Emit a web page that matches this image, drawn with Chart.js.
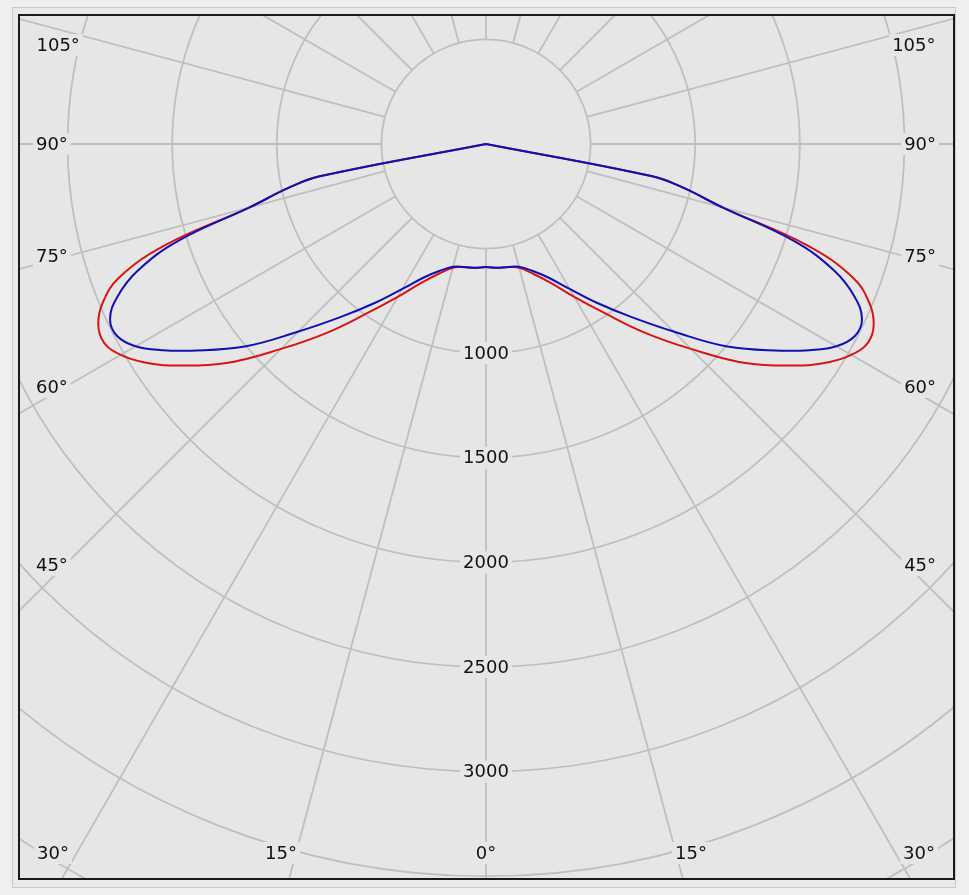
<!DOCTYPE html>
<html>
<head>
<meta charset="utf-8">
<script src="https://cdn.jsdelivr.net/npm/chart.js@4.4.1/dist/chart.umd.min.js"></script>
<style>
  html, body { margin: 0; padding: 0; background: #efefef; }
  body { width: 969px; height: 895px; position: relative; overflow: hidden; }
  .outer { position: absolute; left: 12px; top: 7px; width: 942px; height: 879px;
           border: 1px solid #c9c9c9; background: #e9e9e9; }
  .frame { position: absolute; left: 18px; top: 14px; width: 933px; height: 862px;
           border: 2px solid #1a1a1a; }
  canvas { display: block; }
</style>
</head>
<body>
<div class="outer"></div>
<div class="frame"><canvas id="polar" width="933" height="862"></canvas></div>
<script>
// ===== DATA (luminous intensity, cd) =====
const gammaDeg = [0, 5, 10, 15, 20, 25, 30, 35, 40, 45, 50, 55, 57.5, 60, 62.5, 65, 67.5, 70, 72.5, 75, 77.5, 79, 90];
const blueCd   = [588, 594, 597, 608, 645, 704, 800, 928, 1079, 1268, 1506, 1722, 1834, 1934, 1988, 1983, 1907, 1772, 1545, 1170, 965, 810, 0];
const redCd    = [588, 594, 598, 612, 660, 732, 844, 986, 1175, 1385, 1631, 1845, 1941, 2016, 2058, 2045, 1983, 1866, 1610, 1170, 965, 810, 0];

const ringValues  = [500, 1000, 1500, 2000, 2500, 3000, 3500, 4000, 4500];
const ringLabels  = ["1000", "1500", "2000", "2500", "3000"];
const angleLabels = [0, 15, 30, 45, 60, 75, 90, 105];
const spokeStep = 15;

// ===== VIEW (canvas px <-> cd) =====
const PX_PER_CD = 104.6 / 500;
const W = 933, H = 862;
const CX = 466, CY = 128;   // polar origin in canvas px

const BG = "#e6e6e6";
const GRID = "#bfbfbf";
const FONT = "18px 'DejaVu Sans', Verdana, sans-serif";

// polar (gamma from nadir, side -1 left / +1 right) -> cartesian cd
function toXY(g, r, side) {
    const t = g * Math.PI / 180;
    return { x: side * r * Math.sin(t), y: -r * Math.cos(t) };
}

function curve(values) {
    const pts = [];
    for (let i = gammaDeg.length - 1; i >= 0; i--) pts.push(toXY(gammaDeg[i], values[i], 1));
    for (let i = 1; i < gammaDeg.length; i++) pts.push(toXY(gammaDeg[i], values[i], -1));
    return pts;
}

function maskedText(ctx, txt, px, py) {
    ctx.font = FONT;
    const w = ctx.measureText(txt).width;
    const left = px - w / 2;
    ctx.fillStyle = BG;
    ctx.fillRect(left - 3, py - 11, w + 6, 22);
    ctx.fillStyle = "#111";
    ctx.textAlign = "left";
    ctx.textBaseline = "middle";
    ctx.fillText(txt, left, py + 1);
}

const polarGrid = {
    id: "polarGrid",
    beforeDatasetsDraw(chart) {
        const { ctx, chartArea: a, scales: { x, y } } = chart;
        const px = v => x.getPixelForValue(v);
        const py = v => y.getPixelForValue(v);
        const cx = px(0), cy = py(0);
        const k = px(1000) - cx;

        ctx.save();
        ctx.beginPath();
        ctx.rect(a.left, a.top, a.right - a.left, a.bottom - a.top);
        ctx.clip();
        ctx.fillStyle = BG;
        ctx.fillRect(a.left, a.top, a.right - a.left, a.bottom - a.top);

        ctx.strokeStyle = GRID;
        ctx.lineWidth = 1.8;
        ringValues.forEach(r => {
            ctx.beginPath();
            ctx.arc(cx, cy, r * k / 1000, 0, Math.PI * 2);
            ctx.stroke();
        });
        for (let g = 0; g < 360; g += spokeStep) {
            const p0 = toXY(g, ringValues[0], 1);
            const p1 = toXY(g, 9000, 1);
            ctx.beginPath();
            ctx.moveTo(px(p0.x), py(p0.y));
            ctx.lineTo(px(p1.x), py(p1.y));
            ctx.stroke();
        }

        // intensity labels along the nadir spoke
        ringLabels.forEach(t => maskedText(ctx, t, px(0), py(-Number(t))));

        // angle labels
        const sideX = 2075, sideRef = 2012, topLimit = 473;
        const bottomY = 3389, bottomRef = 3657, bottomMax = 2070;
        angleLabels.forEach(g => {
            const txt = g + "°";
            if (g <= 30) {
                const off = Math.min(bottomRef * Math.tan(g * Math.PI / 180), bottomMax);
                const sides = g === 0 ? [0] : [-1, 1];
                sides.forEach(s => maskedText(ctx, txt, px(s * off), py(-bottomY)));
            } else {
                const dy = Math.min(-sideRef * Math.tan((90 - g) * Math.PI / 180), topLimit);
                const sx = g > 90 ? sideX - 30 : sideX;
                maskedText(ctx, txt, px(-sx), py(dy));
                maskedText(ctx, txt, px(sx), py(dy));
            }
        });
        ctx.restore();
    }
};

new Chart(document.getElementById("polar"), {
    type: "scatter",
    data: {
        datasets: [
            { label: "C90-C270", data: curve(blueCd), borderColor: "#1010b8", showLine: true,
              borderWidth: 2, pointRadius: 0, tension: 0.4, fill: false },
            { label: "C0-C180", data: curve(redCd), borderColor: "#d81414", showLine: true,
              borderWidth: 2, pointRadius: 0, tension: 0.4, fill: false }
        ]
    },
    options: {
        responsive: false,
        animation: false,
        layout: { padding: 0 },
        plugins: { legend: { display: false }, tooltip: { enabled: false } },
        scales: {
            x: { type: "linear", display: false, min: -CX / PX_PER_CD, max: (W - CX) / PX_PER_CD },
            y: { type: "linear", display: false, min: -(H - CY) / PX_PER_CD, max: CY / PX_PER_CD }
        }
    },
    plugins: [polarGrid]
});
</script>
</body>
</html>
